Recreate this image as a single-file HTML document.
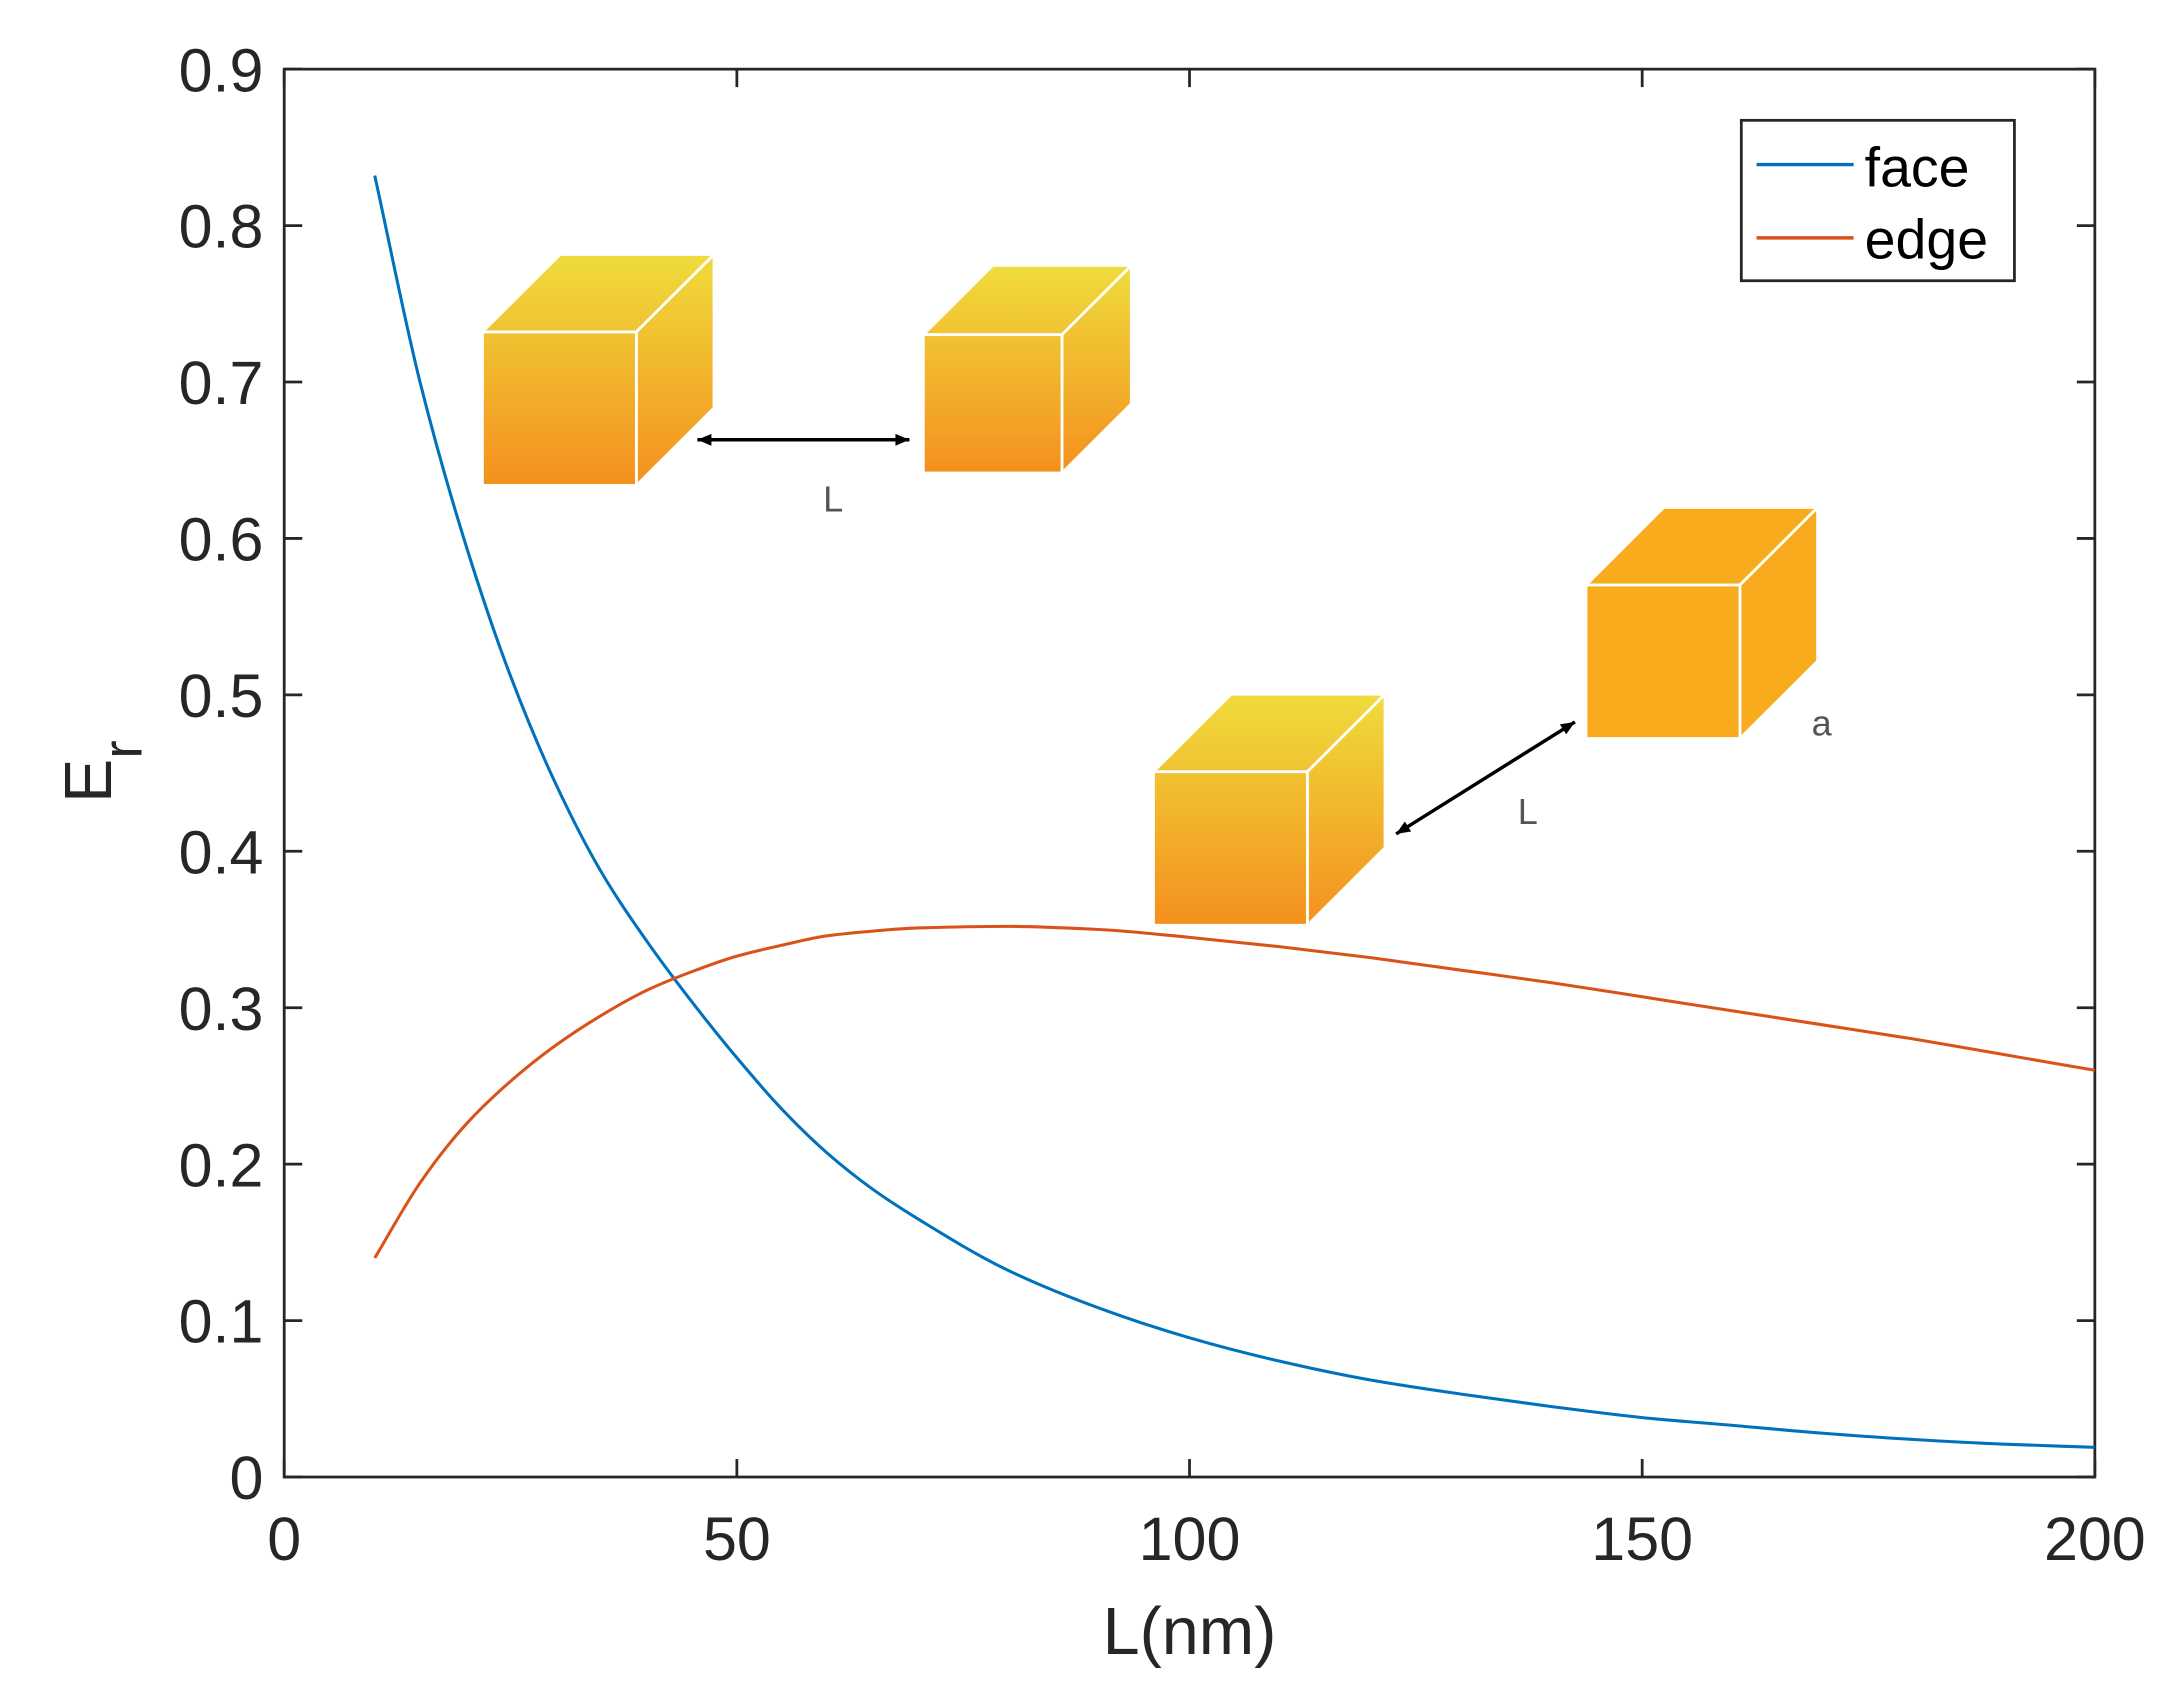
<!DOCTYPE html>
<html><head><meta charset="utf-8"><style>
html,body{margin:0;padding:0;background:#fff}
svg{display:block}
text{font-family:"Liberation Sans",sans-serif;fill:#262626}
</style></head><body>
<svg id="chart" width="2160" height="1690" viewBox="0 0 1558 1222" preserveAspectRatio="none" xmlns="http://www.w3.org/2000/svg">
<defs id="defs"></defs>
<g id="axes"></g>
<g id="series"></g>
<g id="insets"></g>
<g id="legend">
<rect x="1256" y="87" width="197" height="116" fill="#fff" stroke="#262626" stroke-width="2"/>
<line x1="1267" y1="119" x2="1337" y2="119" stroke="#0072bd" stroke-width="2.5"/>
<text x="1345" y="135" font-size="40" style="fill:#000">face</text>
<line x1="1267" y1="172" x2="1337" y2="172" stroke="#d95319" stroke-width="2.5"/>
<text x="1345" y="187" font-size="40" style="fill:#000">edge</text>
</g>
<text x="858" y="1196" font-size="48" text-anchor="middle">L(nm)</text>
<g transform="translate(80,558) rotate(-90)">
<text x="0" y="0" font-size="48" text-anchor="middle">E<tspan font-size="40" dy="22">r</tspan></text>
</g>
</svg>
<script>
const xTicks=[0,50,100,150,200];
const yTicks=[0,0.1,0.2,0.3,0.4,0.5,0.6,0.7,0.8,0.9];
const xVals=[10,15,20,25,30,35,40,45,50,55,60,65,70,80,90,100,110,120,130,140,150,160,170,180,190,200];
const faceVals=[0.832,0.700,0.597,0.512,0.443,0.387,0.343,0.304,0.268,0.235,0.207,0.184,0.165,0.132,0.108,0.089,0.074,0.062,0.053,0.045,0.038,0.033,0.028,0.024,0.021,0.019];
const edgeVals=[0.140,0.188,0.225,0.253,0.276,0.295,0.311,0.323,0.333,0.340,0.346,0.349,0.351,0.352,0.350,0.345,0.339,0.332,0.324,0.316,0.307,0.298,0.289,0.280,0.270,0.260];
const L=205,R=1511,T=50,B=1068;
const xs=v=>L+(v-0)/(200-0)*(R-L);
const ys=v=>B-(v-0)/(0.9-0)*(B-T);
const NS="http://www.w3.org/2000/svg";
function mk(tag,attrs,parent){const e=document.createElementNS(NS,tag);for(const k in attrs)e.setAttribute(k,attrs[k]);parent.appendChild(e);return e;}
const ax=document.getElementById('axes');
const frame=mk('rect',{x:L,y:T,width:R-L,height:B-T,fill:'none',stroke:'#262626','stroke-width':2},ax);


xTicks.forEach(t=>{
  const x=xs(t);
  const a=mk('line',{x1:x,y1:B,x2:x,y2:B-13,stroke:'#262626','stroke-width':2},ax);
  
  
  const b=mk('line',{x1:x,y1:T,x2:x,y2:T+13,stroke:'#262626','stroke-width':2},ax);
  
  
  const tx=mk('text',{x:x,y:1128,'font-size':44,'text-anchor':'middle'},ax);
  tx.textContent=String(t);
  
  
});
yTicks.forEach(t=>{
  const y=ys(t);
  const a=mk('line',{x1:L,y1:y,x2:L+13,y2:y,stroke:'#262626','stroke-width':2},ax);
  
  
  const b=mk('line',{x1:R,y1:y,x2:R-13,y2:y,stroke:'#262626','stroke-width':2},ax);
  
  
  const tx=mk('text',{x:190,y:y+16,'font-size':44,'text-anchor':'end'},ax);
  tx.textContent=t===0?'0':String(t);
  
  
});
// monotone cubic (Fritsch-Carlson) path in pixel space
function smoothPath(xv,yv){
  const px=xv.map(xs),py=yv.map(ys),n=px.length;
  const d=[],m=new Array(n);
  for(let i=0;i<n-1;i++)d.push((py[i+1]-py[i])/(px[i+1]-px[i]));
  m[0]=d[0];m[n-1]=d[n-2];
  for(let i=1;i<n-1;i++){
    if(d[i-1]*d[i]<=0)m[i]=0;
    else{const h0=px[i]-px[i-1],h1=px[i+1]-px[i];const w1=2*h1+h0,w2=h1+2*h0;m[i]=(w1+w2)/(w1/d[i-1]+w2/d[i]);}
  }
  let s='M'+px[0]+','+py[0];
  for(let i=0;i<n-1;i++){
    const h=(px[i+1]-px[i])/3;
    s+=' C'+(px[i]+h)+','+(py[i]+m[i]*h)+' '+(px[i+1]-h)+','+(py[i+1]-m[i+1]*h)+' '+px[i+1]+','+py[i+1];
  }
  return s;
}
const sg=document.getElementById('series');
const f=mk('path',{d:smoothPath(xVals,faceVals),fill:'none',stroke:'#0072bd','stroke-width':2.2},sg);


const e=mk('path',{d:smoothPath(xVals,edgeVals),fill:'none',stroke:'#d95319','stroke-width':2.2},sg);


// cube insets (illustration, not data)
const ig=document.getElementById('insets');
const defs=document.getElementById('defs');
let gid=0;
function cube(x,y,w,h,o,grad,name){
  let fill='#f8ab1c';
  if(grad){
    gid++;
    const lg=mk('linearGradient',{id:'cg'+gid,gradientUnits:'userSpaceOnUse',x1:0,y1:y-o,x2:0,y2:y+h},defs);
    mk('stop',{offset:0,'stop-color':'#efdc3c'},lg);
    mk('stop',{offset:1,'stop-color':'#f4901e'},lg);
    fill='url(#cg'+gid+')';
  }
  const g=mk('g',{},ig);
  
  
  mk('polygon',{points:`${x},${y} ${x+o},${y-o} ${x+w+o},${y-o} ${x+w},${y}`,fill:fill,stroke:'#fff','stroke-width':2},g);
  mk('polygon',{points:`${x+w},${y} ${x+w+o},${y-o} ${x+w+o},${y+h-o} ${x+w},${y+h}`,fill:fill,stroke:'#fff','stroke-width':2},g);
  mk('rect',{x:x,y:y,width:w,height:h,fill:fill,stroke:'#fff','stroke-width':2},g);
}
cube(348,240,111,111,56,true,'cube-1');
cube(666,242,100,100,50,true,'cube-2');
cube(832,558,111,111,56,true,'cube-3');
cube(1144,423,111,111,56,false,'cube-4');
function arrow(x1,y1,x2,y2,name){
  const g=mk('g',{},ig);
  
  
  mk('line',{x1:x1,y1:y1,x2:x2,y2:y2,stroke:'#000','stroke-width':2.5},g);
  [[x1,y1,x2,y2],[x2,y2,x1,y1]].forEach(([ax1,ay1,ax2,ay2])=>{
    const a=Math.atan2(ay1-ay2,ax1-ax2),s=11;
    const p1=[ax1-s*Math.cos(a-0.4),ay1-s*Math.sin(a-0.4)],p2=[ax1-s*Math.cos(a+0.4),ay1-s*Math.sin(a+0.4)];
    mk('polygon',{points:`${ax1},${ay1} ${p1[0]},${p1[1]} ${p2[0]},${p2[1]}`,fill:'#000'},g);
  });
}
arrow(503,318,656,318,'distance-arrow-face');
arrow(1007,603,1136,522,'distance-arrow-edge');
[[601,370,'L'],[1102,596,'L'],[1314,532,'a']].forEach(([x,y,s])=>{
  const t=mk('text',{x:x,y:y,'font-size':26,'text-anchor':'middle'},ig);
  t.textContent=s;
  t.style.fill='#555';
  
  
});
</script>
</body></html>
